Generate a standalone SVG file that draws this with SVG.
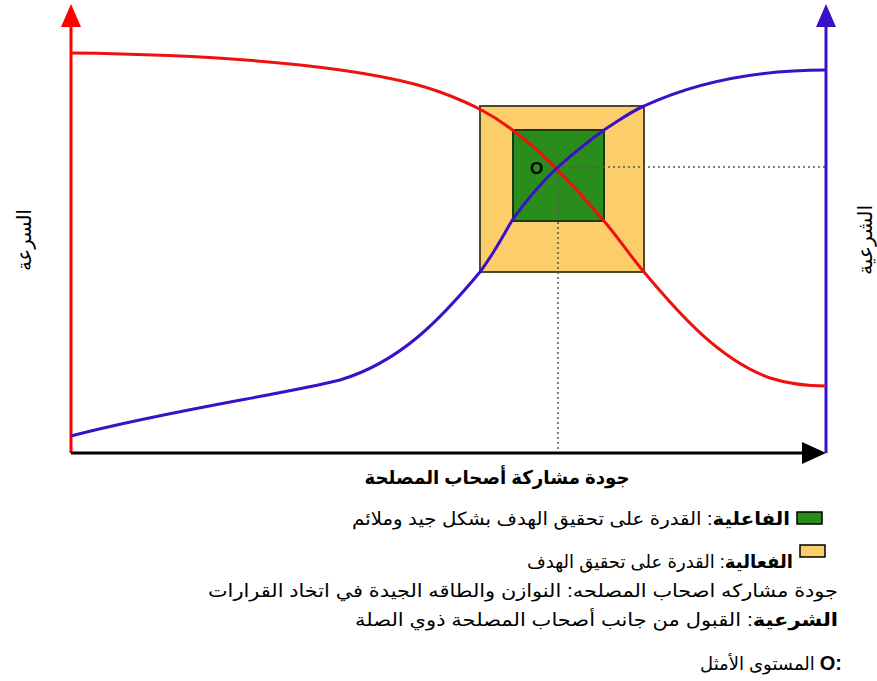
<svg xmlns="http://www.w3.org/2000/svg" width="877" height="681" viewBox="0 0 877 681">
<style>
text{font-family:"Liberation Sans",Arial,"DejaVu Sans",sans-serif;fill:#000}
.lg{font-size:18px}
.b{font-weight:bold}
.dot{stroke:#555;stroke-width:1.5;stroke-dasharray:2 3;fill:none}
</style>
<rect width="877" height="681" fill="#fff"/>
<g id="zones">
<rect id="efficiency" x="480" y="106" width="164" height="166" fill="#fcce6a" stroke="#4a4a2a" stroke-width="2"/>
<rect id="effectiveness" x="513" y="130" width="91" height="91" fill="#2a8c1a" stroke="#1a3a10" stroke-width="2"/>
</g>
<g id="connectors">
<path class="dot" d="M558,167 V453"/>
<path class="dot" d="M558,167 H826"/>
<path d="M71,453 V26" stroke="#f00" stroke-width="3" fill="none"/>
<path d="M61,27 L71,4 L81,27 z" fill="#f00"/>
<path d="M826,453 V26" stroke="#3a10c8" stroke-width="3" fill="none"/>
<path d="M816,27 L826,4 L836,27 z" fill="#3a10c8"/>
<path d="M71,453 H805" stroke="#000" stroke-width="3" fill="none"/>
<path d="M802,442 L826,453 L802,464 z" fill="#000"/>
<path id="speed" d="M71,53 C250,55 380,70 440,92 C470,103 495,115 520,136 C540,150 578,190 604,221 C620,240 632,258 644,272 C680,315 720,360 770,378 C795,386 815,386 826,386" stroke="#f01010" stroke-width="3" fill="none"/>
<path id="legit" d="M71,436 C170,410 280,395 340,380 C400,362 440,320 480,272 C495,252 505,232 513,219 C528,198 542,182 558,167 C575,152 590,140 604,130 C620,120 630,112 644,106 C700,80 760,70 826,70" stroke="#3a10c8" stroke-width="3" fill="none"/>
</g>
<g id="optimum">
<text x="530" y="174" font-size="17" class="b" fill="#111">O</text>
</g>
<g id="axis-labels">
<text transform="translate(31,240) rotate(-90)" font-size="20" text-anchor="middle" direction="rtl" textLength="62" lengthAdjust="spacingAndGlyphs">السرعة</text>
<text transform="translate(872,240) rotate(-90)" font-size="20" text-anchor="middle" direction="rtl" textLength="70" lengthAdjust="spacingAndGlyphs">الشرعية</text>
<text x="497" y="484" font-size="19" class="b" text-anchor="middle" direction="rtl" textLength="265" lengthAdjust="spacingAndGlyphs">جودة مشاركة أصحاب المصلحة</text>
</g>
<g id="legend">
<rect x="797" y="512" width="25" height="12" fill="#2a8c1a" stroke="#000" stroke-width="1.5"/>
<text class="lg" x="790" y="525" direction="rtl" text-anchor="start" textLength="438" lengthAdjust="spacingAndGlyphs"><tspan class="b">الفاعلية</tspan>: القدرة على تحقيق الهدف بشكل جيد وملائم</text>
<rect x="800" y="545" width="25" height="12" fill="#fcce6a" stroke="#000" stroke-width="1.5"/>
<text class="lg" x="793" y="568" direction="rtl" text-anchor="start" textLength="266" lengthAdjust="spacingAndGlyphs"><tspan class="b">الفعالية</tspan>: القدرة على تحقيق الهدف</text>
<text class="lg" x="838" y="597" direction="rtl" text-anchor="start" textLength="630" lengthAdjust="spacingAndGlyphs">جودة مشاركه اصحاب المصلحه: النوازن والطاقه الجيدة في اتخاد القرارات</text>
<text class="lg" x="838" y="626" direction="rtl" text-anchor="start" textLength="483" lengthAdjust="spacingAndGlyphs"><tspan class="b">الشرعية</tspan>: القبول من جانب أصحاب المصلحة ذوي الصلة</text>
<text class="lg" x="842" y="670" direction="rtl" text-anchor="start"><tspan class="b" font-size="20">O:</tspan>&#x200E; المستوى الأمثل</text>
</g>
</svg>
